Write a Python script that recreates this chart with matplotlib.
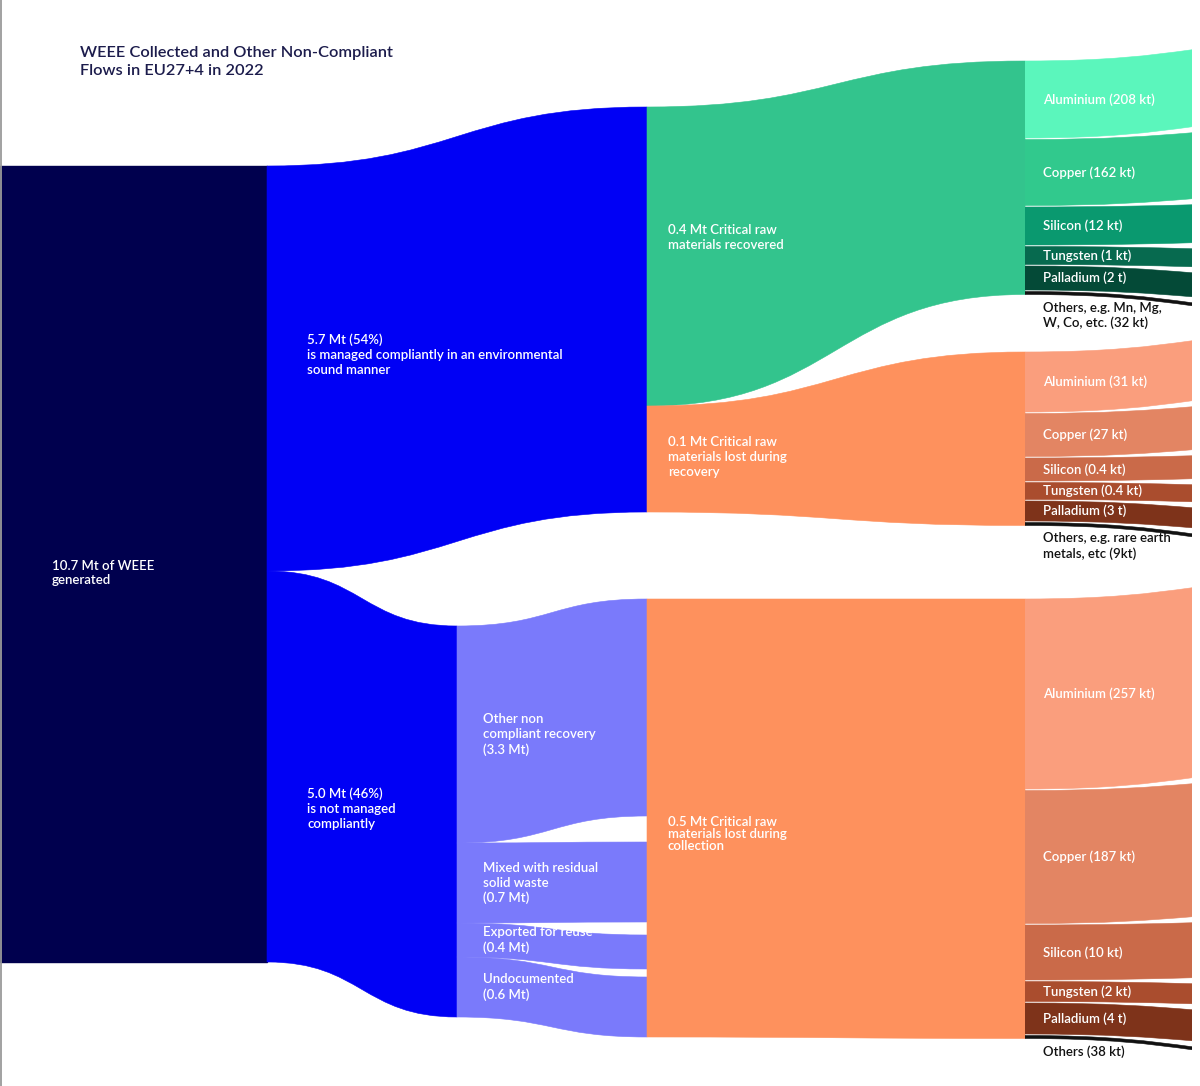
import matplotlib.pyplot as plt
from matplotlib.path import Path
from matplotlib.patches import PathPatch, Rectangle

plt.rcParams['font.family'] = ['Lato', 'DejaVu Sans']
plt.rcParams['font.weight'] = 'semibold'

# ---------------- data ----------------
title = "WEEE Collected and Other Non-Compliant\nFlows in EU27+4 in 2022"

generated_mt = 10.7
managed_mt = [5.7, 5.0]
managed_pct = [54, 46]
managed_text = ["is managed compliantly in an environmental\nsound manner",
                "is not managed\ncompliantly"]

route_names = ["Other non\ncompliant recovery", "Mixed with residual\nsolid waste",
               "Exported for reuse", "Undocumented"]
route_mt = [3.3, 0.7, 0.4, 0.6]

crm_names = ["Critical raw\nmaterials recovered",
             "Critical raw\nmaterials lost during\nrecovery",
             "Critical raw\nmaterials lost during\ncollection"]
crm_mt = [0.4, 0.1, 0.5]

metals = ["Aluminium", "Copper", "Silicon", "Tungsten", "Palladium"]
recovered_amt = ["208 kt", "162 kt", "12 kt", "1 kt", "2 t"]
lost_recovery_amt = ["31 kt", "27 kt", "0.4 kt", "0.4 kt", "3 t"]
lost_collection_amt = ["257 kt", "187 kt", "10 kt", "2 kt", "4 t"]
others_text = ["Others, e.g. Mn, Mg,\nW, Co, etc. (32 kt)",
               "Others, e.g. rare earth\nmetals, etc (9kt)",
               "Others (38 kt)"]

# drawn band thickness (the diagram is not to scale)
generated_w = 796
managed_w = [405, 391]
route_w = [217, 80, 34, 60]
crm_in_w = [299, 106]
recovered_w = [77, 66, 38, 18, 24, 3]
lost_recovery_w = [60, 43, 23, 17, 20, 3]
lost_collection_w = [190, 133, 55, 20, 31, 3]

# ---------------- layout / style ----------------
col_x = [0, 267, 457, 647, 1025, 1192]
top0 = 166
managed_end_top = [107, 626]
route_end_top = 599
route_gaps = [26, 13, 8]
metal_top = [61, 352, 599]
band_gap = 1.5
fan_gap = 6

navy, blue, purple = "#00004E", "#0000F5", "#7A7AFB"
green, orange = "#33C48D", "#FE915D"
green_shades = ["#5BF6BC", "#31C98D", "#0A996F", "#076A4F", "#044A37", "#111111"]
orange_shades = ["#FA9E7D", "#E38563", "#CA6A49", "#AA4D2E", "#7E331A", "#111111"]

FS = 9.5
LS = 1.28


def ribbon(ax, x0, x1, t0, b0, t1, b1, color, clip=None, z=2):
    xm = (x0 + x1) / 2
    verts = [(x0, t0), (xm, t0), (xm, t1), (x1, t1),
             (x1, b1), (xm, b1), (xm, b0), (x0, b0), (x0, t0)]
    codes = [Path.MOVETO, Path.CURVE4, Path.CURVE4, Path.CURVE4,
             Path.LINETO, Path.CURVE4, Path.CURVE4, Path.CURVE4, Path.CLOSEPOLY]
    p = PathPatch(Path(verts, codes), facecolor=color, edgecolor=color, lw=0.4, zorder=z)
    ax.add_patch(p)
    if clip is not None:
        p.set_clip_path(clip)
    return p


def stack(top, widths, gap=0.0):
    spans = []
    y = top
    for w in widths:
        spans.append((y, y + w))
        y += w + gap
    return spans


fig = plt.figure(figsize=(12, 10.86), dpi=100)
ax = fig.add_axes([0, 0, 1, 1])
ax.set_xlim(0, 1200)
ax.set_ylim(1086, 0)
ax.axis("off")

ax.plot([0.6, 0.6], [0, 1086], color="#9a9a9a", lw=1.3, zorder=5)

ax.text(80, 62, title, fontsize=11.8, color="#1C1C4C", va="center", ha="left",
        linespacing=1.3, fontweight="semibold")

# node 0
ax.add_patch(Rectangle((col_x[0], top0), col_x[1] - col_x[0], generated_w, color=navy, zorder=2))
ax.text(col_x[0] + 52, top0 + generated_w / 2 + 9, f"{generated_mt} Mt of WEEE\ngenerated",
        color="white", fontsize=FS, va="center", linespacing=LS, zorder=6)

# managed / not managed flows
m_left = stack(top0, managed_w)
m_end_x = [col_x[3], col_x[2]]
m_dy = [-14, 42]
for i in range(2):
    t0, b0 = m_left[i]
    t1 = managed_end_top[i]
    ribbon(ax, col_x[1], m_end_x[i], t0, b0, t1, t1 + managed_w[i], blue)
    ax.text(col_x[1] + 40, (t0 + b0) / 2 + m_dy[i],
            f"{managed_mt[i]} Mt ({managed_pct[i]}%)\n{managed_text[i]}",
            color="white", fontsize=FS, va="center", linespacing=LS, zorder=6)

# non-compliant routes
r_left = stack(managed_end_top[1], route_w)
r_right = []
y = route_end_top
for i, w in enumerate(route_w):
    r_right.append((y, y + w))
    y += w + (route_gaps[i] if i < len(route_gaps) else 0)
for i in range(len(route_w)):
    ribbon(ax, col_x[2], col_x[3], r_left[i][0], r_left[i][1], r_right[i][0], r_right[i][1], purple)
    ax.text(col_x[2] + 26, (r_left[i][0] + r_left[i][1]) / 2,
            f"{route_names[i]}\n({route_mt[i]} Mt)",
            color="white", fontsize=FS, va="center", linespacing=LS, zorder=6)

# critical raw material nodes
crm_left = stack(managed_end_top[0], crm_in_w) + [(r_right[0][0], r_right[-1][1])]
groups = [recovered_w, lost_recovery_w, lost_collection_w]
group_amt = [recovered_amt, lost_recovery_amt, lost_collection_amt]
group_col = [green, orange, orange]
group_shades = [green_shades, orange_shades, orange_shades]
crm_dy = [-19, -2, 16]
crm_ls = [LS, LS, 1.0]
clip = Rectangle((col_x[4], 0), col_x[5] - col_x[4], 1086, transform=ax.transData)

for g in range(3):
    spans = stack(metal_top[g], groups[g], band_gap)
    right_t, right_b = spans[0][0], spans[-1][1]
    lt, lb = crm_left[g]
    ribbon(ax, col_x[3], col_x[4], lt, lb, right_t, right_b, group_col[g])
    ax.text(col_x[3] + 21, (lt + lb) / 2 + crm_dy[g], f"{crm_mt[g]} Mt {crm_names[g]}",
            color="white", fontsize=FS, va="center", linespacing=crm_ls[g], zorder=6)

    # metal ribbons fanning out to the right edge
    fan = stack(0, groups[g], fan_gap)
    shift = (spans[0][0] + spans[-1][1]) / 2 - (fan[0][0] + fan[-1][1]) / 2
    dx = col_x[5] - col_x[4]
    for k, (t0, b0) in enumerate(spans):
        t1, b1 = fan[k][0] + shift, fan[k][1] + shift
        # S-curve towards a target beyond the frame, cut at the frame edge
        ribbon(ax, col_x[4], col_x[4] + 2 * dx, t0, b0,
               t0 + 2 * (t1 - t0), b0 + 2 * (b1 - b0), group_shades[g][k], clip=clip, z=3)
        if k < len(metals):
            ax.text(col_x[4] + 18, (t0 + b0) / 2, f"{metals[k]} ({group_amt[g][k]})",
                    color="white", fontsize=FS, va="center", zorder=6)
        else:
            ax.text(col_x[4] + 18, b0 + 7, others_text[g], color="#111111",
                    fontsize=FS, va="top", linespacing=LS, zorder=6)

fig.savefig("out.png", dpi=100)
